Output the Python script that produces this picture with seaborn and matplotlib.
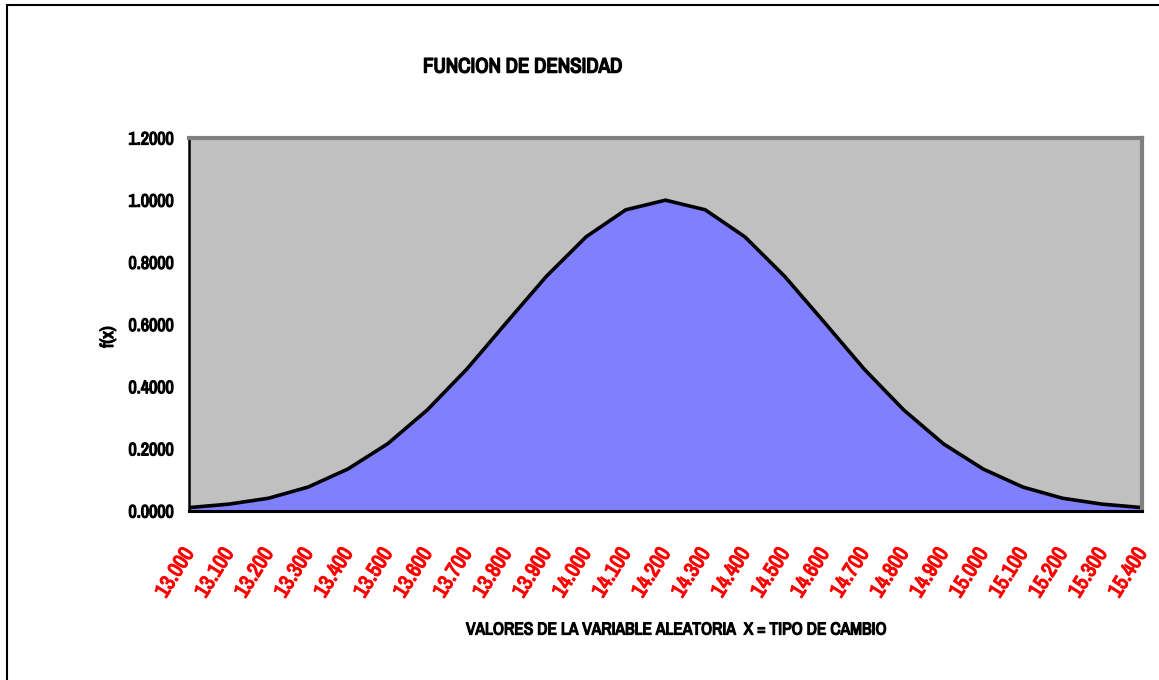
import matplotlib
matplotlib.use("Agg")
import matplotlib.pyplot as plt
import matplotlib.transforms as mtransforms
import matplotlib.patheffects as pe
import seaborn as sns
import pandas as pd
from matplotlib.patches import Rectangle

x_labels = ["13.000", "13.100", "13.200", "13.300", "13.400", "13.500", "13.600",
            "13.700", "13.800", "13.900", "14.000", "14.100", "14.200", "14.300",
            "14.400", "14.500", "14.600", "14.700", "14.800", "14.900", "15.000",
            "15.100", "15.200", "15.300", "15.400"]
fx = [0.011, 0.022, 0.041, 0.077, 0.135, 0.216, 0.325, 0.457, 0.607, 0.755,
      0.882, 0.969, 1.000, 0.969, 0.882, 0.755, 0.607, 0.457, 0.325, 0.216,
      0.135, 0.077, 0.041, 0.022, 0.011]
y_ticks = [0.0, 0.2, 0.4, 0.6, 0.8, 1.0, 1.2]

sns.set_style("white")
plt.rcParams['font.family'] = ['Archivo Narrow', 'Liberation Sans', 'DejaVu Sans']
plt.rcParams['font.weight'] = 'bold'
plt.rcParams['text.color'] = 'black'
plt.rcParams['axes.labelcolor'] = 'black'
plt.rcParams['xtick.color'] = 'black'
plt.rcParams['ytick.color'] = 'black'


def embolden(txt, color, w=0.9):
    txt.set_path_effects([pe.withStroke(linewidth=w, foreground=color)])


df = pd.DataFrame({"pos": list(range(len(x_labels))), "fx": fx})

fig = plt.figure(figsize=(11.59, 6.8), dpi=100)
fig.patches.append(Rectangle((7 / 1159, -0.01), 1.02, (680 - 5) / 680 + 0.01,
                             transform=fig.transFigure, fill=False,
                             edgecolor='black', linewidth=1.5, zorder=0))
ax = fig.add_axes([189 / 1159, (680 - 511) / 680, (1142 - 189) / 1159, (511 - 138) / 680])
ax.set_facecolor('#C0C0C0')

ax.fill_between(df["pos"], df["fx"], 0, color='#8080FF', linewidth=0)
sns.lineplot(data=df, x="pos", y="fx", ax=ax, color='black', linewidth=2.6)

ax.set_xlim(0, len(x_labels) - 1)
ax.set_ylim(0, 1.2)
ax.set_yticks(y_ticks)
ax.set_yticklabels([f"{v:.4f}" for v in y_ticks], fontsize=13, fontweight='bold')
ax.set_xticks(df["pos"])
ax.set_xticklabels(x_labels, rotation=58, ha='right', va='top', rotation_mode='anchor',
                   color='red', fontsize=15.5, fontweight='bold')
ax.tick_params(axis='y', direction='out', length=6, width=1.2, color='black', pad=5)
ax.tick_params(axis='x', direction='inout', length=12, width=1.2, color='black', pad=0)
for lbl in ax.get_xticklabels():
    lbl.set_transform(lbl.get_transform() +
                      mtransforms.ScaledTranslation(-8 / 100, -25 / 100, fig.dpi_scale_trans))
    embolden(lbl, 'red')
for lbl in ax.get_yticklabels():
    embolden(lbl, 'black')

ax.spines['left'].set_color('black')
ax.spines['left'].set_linewidth(1.8)
ax.spines['bottom'].set_color('black')
ax.spines['bottom'].set_linewidth(2.2)
ax.spines['top'].set_color('#808080')
ax.spines['top'].set_linewidth(3)
ax.spines['right'].set_color('#808080')
ax.spines['right'].set_linewidth(3)

ax.set_xlabel("VALORES DE LA VARIABLE ALEATORIA  X = TIPO DE CAMBIO", fontsize=12.5,
              fontweight='bold')
ax.xaxis.set_label_coords((677 - 189) / 953, (511 - 630) / 373)
ax.xaxis.label.set_va('center')
embolden(ax.xaxis.label, 'black')
ax.set_ylabel("f(x)", fontsize=13, fontweight='bold')
ax.yaxis.set_label_coords((108 - 189) / 953, (511 - 337) / 373)
ax.yaxis.label.set_va('center')
embolden(ax.yaxis.label, 'black')

title = fig.text(523 / 1159, 1 - 67 / 680, "FUNCION DE DENSIDAD", ha='center', va='center',
                 fontsize=15, fontweight='bold')
embolden(title, 'black', 1.1)

fig.savefig("out.png", dpi=100)
